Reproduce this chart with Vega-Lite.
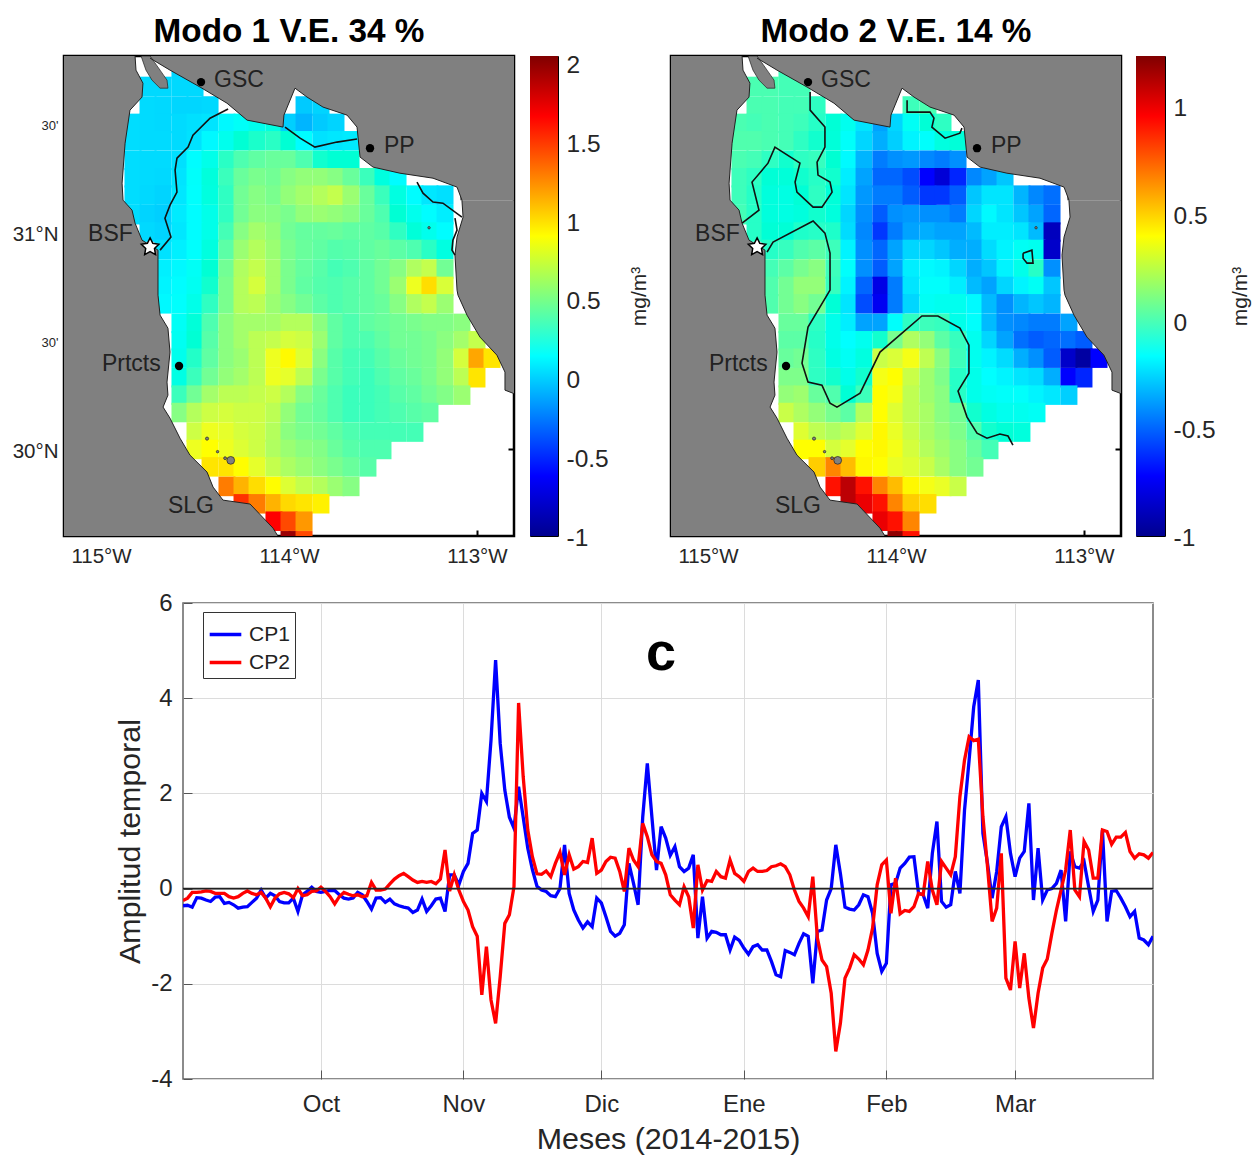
{"$schema":"https://vega.github.io/schema/vega-lite/v6.json","background":"white","padding":{"left":10,"top":13,"right":18,"bottom":10},"config":{"font":"Liberation Sans","axis":{"labelColor":"#262626","titleColor":"#262626","titleFontWeight":"normal"},"title":{"font":"Liberation Sans"}},
"datasets":{
"celdas":[
{"lon":-114.58,"lat":31.75,"a":-0.07,"b":0.05},
{"lon":-114.75,"lat":31.67,"a":-0.06,"b":0.07},{"lon":-114.67,"lat":31.67,"a":-0.06,"b":0.07},{"lon":-114.58,"lat":31.67,"a":-0.06,"b":0.06},{"lon":-114.5,"lat":31.67,"a":-0.06,"b":0.06},
{"lon":-114.75,"lat":31.58,"a":-0.05,"b":0.07},{"lon":-114.67,"lat":31.58,"a":-0.06,"b":0.07},{"lon":-114.58,"lat":31.58,"a":-0.07,"b":0.06},{"lon":-114.5,"lat":31.58,"a":-0.07,"b":0.06},{"lon":-114.42,"lat":31.58,"a":-0.06,"b":0.03},{"lon":-113.92,"lat":31.58,"a":-0.12,"b":0.05},{"lon":-113.83,"lat":31.58,"a":-0.08,"b":0.07},
{"lon":-114.83,"lat":31.5,"a":-0.04,"b":0.07},{"lon":-114.75,"lat":31.5,"a":-0.05,"b":0.06},{"lon":-114.67,"lat":31.5,"a":-0.06,"b":0.07},{"lon":-114.58,"lat":31.5,"a":-0.05,"b":0.06},{"lon":-114.5,"lat":31.5,"a":-0.03,"b":0.05},{"lon":-114.42,"lat":31.5,"a":-0.01,"b":0.02},{"lon":-114.33,"lat":31.5,"a":0.08,"b":-0.02},{"lon":-114.25,"lat":31.5,"a":0.15,"b":-0.1},{"lon":-114.17,"lat":31.5,"a":0.2,"b":-0.25},{"lon":-114.08,"lat":31.5,"a":0.25,"b":-0.45},{"lon":-114,"lat":31.5,"a":-0.1,"b":-0.3},{"lon":-113.92,"lat":31.5,"a":-0.2,"b":-0.12},{"lon":-113.83,"lat":31.5,"a":-0.12,"b":-0.02},{"lon":-113.75,"lat":31.5,"a":-0.08,"b":0.03},
{"lon":-114.83,"lat":31.42,"a":-0.04,"b":0.08},{"lon":-114.75,"lat":31.42,"a":-0.05,"b":0.08},{"lon":-114.67,"lat":31.42,"a":-0.05,"b":0.07},{"lon":-114.58,"lat":31.42,"a":-0.05,"b":0.06},{"lon":-114.5,"lat":31.42,"a":-0.02,"b":0.03},{"lon":-114.42,"lat":31.42,"a":0.08,"b":0},{"lon":-114.33,"lat":31.42,"a":0.2,"b":-0.03},{"lon":-114.25,"lat":31.42,"a":0.3,"b":-0.14},{"lon":-114.17,"lat":31.42,"a":0.33,"b":-0.3},{"lon":-114.08,"lat":31.42,"a":0.35,"b":-0.42},{"lon":-114,"lat":31.42,"a":0.3,"b":-0.32},{"lon":-113.92,"lat":31.42,"a":0.1,"b":-0.2},{"lon":-113.83,"lat":31.42,"a":-0.02,"b":-0.15},{"lon":-113.75,"lat":31.42,"a":0,"b":-0.05},{"lon":-113.67,"lat":31.42,"a":0.02,"b":-0.03},
{"lon":-114.83,"lat":31.33,"a":-0.04,"b":0.07},{"lon":-114.75,"lat":31.33,"a":-0.05,"b":0.06},{"lon":-114.67,"lat":31.33,"a":-0.05,"b":0.03},{"lon":-114.58,"lat":31.33,"a":-0.03,"b":0},{"lon":-114.5,"lat":31.33,"a":0.1,"b":0.03},{"lon":-114.42,"lat":31.33,"a":0.22,"b":0.04},{"lon":-114.33,"lat":31.33,"a":0.35,"b":-0.01},{"lon":-114.25,"lat":31.33,"a":0.42,"b":-0.18},{"lon":-114.17,"lat":31.33,"a":0.46,"b":-0.4},{"lon":-114.08,"lat":31.33,"a":0.48,"b":-0.55},{"lon":-114,"lat":31.33,"a":0.48,"b":-0.5},{"lon":-113.92,"lat":31.33,"a":0.42,"b":-0.48},{"lon":-113.83,"lat":31.33,"a":0.32,"b":-0.52},{"lon":-113.75,"lat":31.33,"a":0.3,"b":-0.55},{"lon":-113.67,"lat":31.33,"a":0.3,"b":-0.5},
{"lon":-114.83,"lat":31.25,"a":-0.04,"b":0.05},{"lon":-114.75,"lat":31.25,"a":-0.05,"b":0.03},{"lon":-114.67,"lat":31.25,"a":-0.06,"b":-0.02},{"lon":-114.58,"lat":31.25,"a":-0.01,"b":-0.03},{"lon":-114.5,"lat":31.25,"a":0.13,"b":0},{"lon":-114.42,"lat":31.25,"a":0.27,"b":0.02},{"lon":-114.33,"lat":31.25,"a":0.38,"b":0},{"lon":-114.25,"lat":31.25,"a":0.48,"b":-0.22},{"lon":-114.17,"lat":31.25,"a":0.52,"b":-0.45},{"lon":-114.08,"lat":31.25,"a":0.5,"b":-0.6},{"lon":-114,"lat":31.25,"a":0.55,"b":-0.6},{"lon":-113.92,"lat":31.25,"a":0.58,"b":-0.65},{"lon":-113.83,"lat":31.25,"a":0.58,"b":-0.72},{"lon":-113.75,"lat":31.25,"a":0.55,"b":-0.82},{"lon":-113.67,"lat":31.25,"a":0.48,"b":-0.7},{"lon":-113.58,"lat":31.25,"a":0.38,"b":-0.52},{"lon":-113.5,"lat":31.25,"a":0.26,"b":-0.45},{"lon":-113.42,"lat":31.25,"a":0.1,"b":-0.35},
{"lon":-114.83,"lat":31.17,"a":-0.04,"b":0.05},{"lon":-114.75,"lat":31.17,"a":-0.06,"b":0.02},{"lon":-114.67,"lat":31.17,"a":-0.08,"b":-0.04},{"lon":-114.58,"lat":31.17,"a":0,"b":-0.06},{"lon":-114.5,"lat":31.17,"a":0.12,"b":-0.02},{"lon":-114.42,"lat":31.17,"a":0.26,"b":0.03},{"lon":-114.33,"lat":31.17,"a":0.36,"b":-0.03},{"lon":-114.25,"lat":31.17,"a":0.5,"b":-0.25},{"lon":-114.17,"lat":31.17,"a":0.55,"b":-0.48},{"lon":-114.08,"lat":31.17,"a":0.52,"b":-0.55},{"lon":-114,"lat":31.17,"a":0.58,"b":-0.55},{"lon":-113.92,"lat":31.17,"a":0.62,"b":-0.62},{"lon":-113.83,"lat":31.17,"a":0.66,"b":-0.68},{"lon":-113.75,"lat":31.17,"a":0.7,"b":-0.68},{"lon":-113.67,"lat":31.17,"a":0.6,"b":-0.62},{"lon":-113.58,"lat":31.17,"a":0.48,"b":-0.35},{"lon":-113.5,"lat":31.17,"a":0.38,"b":-0.25},{"lon":-113.42,"lat":31.17,"a":0.25,"b":-0.25},{"lon":-113.33,"lat":31.17,"a":0.1,"b":-0.4},{"lon":-113.25,"lat":31.17,"a":0,"b":-0.52},{"lon":-113.17,"lat":31.17,"a":-0.03,"b":-0.58},
{"lon":-114.83,"lat":31.08,"a":-0.04,"b":0.06},{"lon":-114.75,"lat":31.08,"a":-0.08,"b":0.02},{"lon":-114.67,"lat":31.08,"a":-0.1,"b":-0.04},{"lon":-114.58,"lat":31.08,"a":0.02,"b":-0.06},{"lon":-114.5,"lat":31.08,"a":0.1,"b":-0.04},{"lon":-114.42,"lat":31.08,"a":0.22,"b":0},{"lon":-114.33,"lat":31.08,"a":0.36,"b":-0.04},{"lon":-114.25,"lat":31.08,"a":0.5,"b":-0.3},{"lon":-114.17,"lat":31.08,"a":0.56,"b":-0.5},{"lon":-114.08,"lat":31.08,"a":0.55,"b":-0.62},{"lon":-114,"lat":31.08,"a":0.52,"b":-0.5},{"lon":-113.92,"lat":31.08,"a":0.58,"b":-0.48},{"lon":-113.83,"lat":31.08,"a":0.6,"b":-0.5},{"lon":-113.75,"lat":31.08,"a":0.58,"b":-0.5},{"lon":-113.67,"lat":31.08,"a":0.55,"b":-0.55},{"lon":-113.58,"lat":31.08,"a":0.48,"b":-0.3},{"lon":-113.5,"lat":31.08,"a":0.42,"b":-0.18},{"lon":-113.42,"lat":31.08,"a":0.3,"b":-0.25},{"lon":-113.33,"lat":31.08,"a":0.2,"b":-0.35},{"lon":-113.25,"lat":31.08,"a":0.1,"b":-0.45},{"lon":-113.17,"lat":31.08,"a":0.03,"b":-0.6},
{"lon":-114.75,"lat":31,"a":-0.06,"b":0.02},{"lon":-114.67,"lat":31,"a":-0.08,"b":-0.02},{"lon":-114.58,"lat":31,"a":0,"b":-0.02},{"lon":-114.5,"lat":31,"a":0.1,"b":0.01},{"lon":-114.42,"lat":31,"a":0.22,"b":0.02},{"lon":-114.33,"lat":31,"a":0.4,"b":0.01},{"lon":-114.25,"lat":31,"a":0.55,"b":-0.28},{"lon":-114.17,"lat":31,"a":0.62,"b":-0.52},{"lon":-114.08,"lat":31,"a":0.58,"b":-0.68},{"lon":-114,"lat":31,"a":0.5,"b":-0.55},{"lon":-113.92,"lat":31,"a":0.47,"b":-0.45},{"lon":-113.83,"lat":31,"a":0.47,"b":-0.42},{"lon":-113.75,"lat":31,"a":0.48,"b":-0.45},{"lon":-113.67,"lat":31,"a":0.46,"b":-0.45},{"lon":-113.58,"lat":31,"a":0.46,"b":-0.38},{"lon":-113.5,"lat":31,"a":0.44,"b":-0.22},{"lon":-113.42,"lat":31,"a":0.36,"b":-0.22},{"lon":-113.33,"lat":31,"a":0.28,"b":-0.25},{"lon":-113.25,"lat":31,"a":0.2,"b":-0.38},{"lon":-113.17,"lat":31,"a":0.1,"b":-0.88},
{"lon":-114.67,"lat":30.92,"a":-0.02,"b":0.02},{"lon":-114.58,"lat":30.92,"a":0.04,"b":0.04},{"lon":-114.5,"lat":30.92,"a":0.12,"b":0.08},{"lon":-114.42,"lat":30.92,"a":0.26,"b":0.1},{"lon":-114.33,"lat":30.92,"a":0.45,"b":0.05},{"lon":-114.25,"lat":30.92,"a":0.6,"b":-0.2},{"lon":-114.17,"lat":30.92,"a":0.66,"b":-0.5},{"lon":-114.08,"lat":30.92,"a":0.6,"b":-0.6},{"lon":-114,"lat":30.92,"a":0.52,"b":-0.45},{"lon":-113.92,"lat":30.92,"a":0.48,"b":-0.3},{"lon":-113.83,"lat":30.92,"a":0.46,"b":-0.3},{"lon":-113.75,"lat":30.92,"a":0.43,"b":-0.35},{"lon":-113.67,"lat":30.92,"a":0.44,"b":-0.42},{"lon":-113.58,"lat":30.92,"a":0.46,"b":-0.42},{"lon":-113.5,"lat":30.92,"a":0.48,"b":-0.28},{"lon":-113.42,"lat":30.92,"a":0.45,"b":-0.2},{"lon":-113.33,"lat":30.92,"a":0.42,"b":-0.12},{"lon":-113.25,"lat":30.92,"a":0.35,"b":-0.1},{"lon":-113.17,"lat":30.92,"a":0.25,"b":-0.85},
{"lon":-114.67,"lat":30.83,"a":0.04,"b":0.06},{"lon":-114.58,"lat":30.83,"a":0.08,"b":0.1},{"lon":-114.5,"lat":30.83,"a":0.16,"b":0.15},{"lon":-114.42,"lat":30.83,"a":0.3,"b":0.18},{"lon":-114.33,"lat":30.83,"a":0.5,"b":0.05},{"lon":-114.25,"lat":30.83,"a":0.65,"b":-0.15},{"lon":-114.17,"lat":30.83,"a":0.7,"b":-0.5},{"lon":-114.08,"lat":30.83,"a":0.62,"b":-0.62},{"lon":-114,"lat":30.83,"a":0.52,"b":-0.45},{"lon":-113.92,"lat":30.83,"a":0.47,"b":-0.22},{"lon":-113.83,"lat":30.83,"a":0.44,"b":-0.18},{"lon":-113.75,"lat":30.83,"a":0.4,"b":-0.2},{"lon":-113.67,"lat":30.83,"a":0.42,"b":-0.3},{"lon":-113.58,"lat":30.83,"a":0.46,"b":-0.42},{"lon":-113.5,"lat":30.83,"a":0.5,"b":-0.35},{"lon":-113.42,"lat":30.83,"a":0.55,"b":-0.2},{"lon":-113.33,"lat":30.83,"a":0.65,"b":-0.08},{"lon":-113.25,"lat":30.83,"a":0.7,"b":0.02},{"lon":-113.17,"lat":30.83,"a":0.5,"b":-0.5},
{"lon":-114.67,"lat":30.75,"a":0.06,"b":0.08},{"lon":-114.58,"lat":30.75,"a":0.1,"b":0.14},{"lon":-114.5,"lat":30.75,"a":0.18,"b":0.2},{"lon":-114.42,"lat":30.75,"a":0.32,"b":0.2},{"lon":-114.33,"lat":30.75,"a":0.52,"b":0.04},{"lon":-114.25,"lat":30.75,"a":0.66,"b":-0.2},{"lon":-114.17,"lat":30.75,"a":0.74,"b":-0.6},{"lon":-114.08,"lat":30.75,"a":0.62,"b":-0.78},{"lon":-114,"lat":30.75,"a":0.52,"b":-0.55},{"lon":-113.92,"lat":30.75,"a":0.46,"b":-0.25},{"lon":-113.83,"lat":30.75,"a":0.43,"b":-0.15},{"lon":-113.75,"lat":30.75,"a":0.42,"b":-0.15},{"lon":-113.67,"lat":30.75,"a":0.44,"b":-0.22},{"lon":-113.58,"lat":30.75,"a":0.46,"b":-0.38},{"lon":-113.5,"lat":30.75,"a":0.5,"b":-0.45},{"lon":-113.42,"lat":30.75,"a":0.6,"b":-0.3},{"lon":-113.33,"lat":30.75,"a":0.8,"b":-0.2},{"lon":-113.25,"lat":30.75,"a":0.98,"b":-0.12},{"lon":-113.17,"lat":30.75,"a":0.75,"b":-0.35},
{"lon":-114.67,"lat":30.67,"a":0.08,"b":0.08},{"lon":-114.58,"lat":30.67,"a":0.12,"b":0.14},{"lon":-114.5,"lat":30.67,"a":0.22,"b":0.18},{"lon":-114.42,"lat":30.67,"a":0.36,"b":0.14},{"lon":-114.33,"lat":30.67,"a":0.52,"b":-0.02},{"lon":-114.25,"lat":30.67,"a":0.66,"b":-0.25},{"lon":-114.17,"lat":30.67,"a":0.68,"b":-0.65},{"lon":-114.08,"lat":30.67,"a":0.6,"b":-0.75},{"lon":-114,"lat":30.67,"a":0.55,"b":-0.55},{"lon":-113.92,"lat":30.67,"a":0.5,"b":-0.3},{"lon":-113.83,"lat":30.67,"a":0.45,"b":-0.12},{"lon":-113.75,"lat":30.67,"a":0.42,"b":-0.1},{"lon":-113.67,"lat":30.67,"a":0.44,"b":-0.1},{"lon":-113.58,"lat":30.67,"a":0.46,"b":-0.18},{"lon":-113.5,"lat":30.67,"a":0.48,"b":-0.38},{"lon":-113.42,"lat":30.67,"a":0.55,"b":-0.5},{"lon":-113.33,"lat":30.67,"a":0.65,"b":-0.4},{"lon":-113.25,"lat":30.67,"a":0.7,"b":-0.35},{"lon":-113.17,"lat":30.67,"a":0.6,"b":-0.4},
{"lon":-114.58,"lat":30.58,"a":0.16,"b":0.12},{"lon":-114.5,"lat":30.58,"a":0.28,"b":0.12},{"lon":-114.42,"lat":30.58,"a":0.42,"b":0.03},{"lon":-114.33,"lat":30.58,"a":0.56,"b":-0.08},{"lon":-114.25,"lat":30.58,"a":0.62,"b":-0.22},{"lon":-114.17,"lat":30.58,"a":0.62,"b":-0.45},{"lon":-114.08,"lat":30.58,"a":0.62,"b":-0.45},{"lon":-114,"lat":30.58,"a":0.66,"b":-0.15},{"lon":-113.92,"lat":30.58,"a":0.66,"b":0.03},{"lon":-113.83,"lat":30.58,"a":0.56,"b":0.05},{"lon":-113.75,"lat":30.58,"a":0.46,"b":0.04},{"lon":-113.67,"lat":30.58,"a":0.42,"b":-0.08},{"lon":-113.58,"lat":30.58,"a":0.46,"b":-0.15},{"lon":-113.5,"lat":30.58,"a":0.48,"b":-0.38},{"lon":-113.42,"lat":30.58,"a":0.5,"b":-0.5},{"lon":-113.33,"lat":30.58,"a":0.52,"b":-0.52},{"lon":-113.25,"lat":30.58,"a":0.54,"b":-0.55},{"lon":-113.17,"lat":30.58,"a":0.54,"b":-0.55},{"lon":-113.08,"lat":30.58,"a":0.56,"b":-0.45},
{"lon":-114.58,"lat":30.5,"a":0.18,"b":0.1},{"lon":-114.5,"lat":30.5,"a":0.3,"b":0.1},{"lon":-114.42,"lat":30.5,"a":0.44,"b":0.02},{"lon":-114.33,"lat":30.5,"a":0.56,"b":-0.08},{"lon":-114.25,"lat":30.5,"a":0.62,"b":-0.16},{"lon":-114.17,"lat":30.5,"a":0.68,"b":-0.1},{"lon":-114.08,"lat":30.5,"a":0.7,"b":0},{"lon":-114,"lat":30.5,"a":0.74,"b":0.15},{"lon":-113.92,"lat":30.5,"a":0.72,"b":0.25},{"lon":-113.83,"lat":30.5,"a":0.6,"b":0.2},{"lon":-113.75,"lat":30.5,"a":0.46,"b":0.1},{"lon":-113.67,"lat":30.5,"a":0.42,"b":0.04},{"lon":-113.58,"lat":30.5,"a":0.42,"b":-0.1},{"lon":-113.5,"lat":30.5,"a":0.46,"b":-0.3},{"lon":-113.42,"lat":30.5,"a":0.5,"b":-0.45},{"lon":-113.33,"lat":30.5,"a":0.5,"b":-0.58},{"lon":-113.25,"lat":30.5,"a":0.52,"b":-0.62},{"lon":-113.17,"lat":30.5,"a":0.56,"b":-0.6},{"lon":-113.08,"lat":30.5,"a":0.62,"b":-0.58},{"lon":-113,"lat":30.5,"a":0.7,"b":-0.62},
{"lon":-114.58,"lat":30.42,"a":0.2,"b":0.12},{"lon":-114.5,"lat":30.42,"a":0.34,"b":0.14},{"lon":-114.42,"lat":30.42,"a":0.46,"b":0.03},{"lon":-114.33,"lat":30.42,"a":0.56,"b":-0.06},{"lon":-114.25,"lat":30.42,"a":0.6,"b":-0.12},{"lon":-114.17,"lat":30.42,"a":0.68,"b":-0.05},{"lon":-114.08,"lat":30.42,"a":0.8,"b":0.3},{"lon":-114,"lat":30.42,"a":0.86,"b":0.33},{"lon":-113.92,"lat":30.42,"a":0.76,"b":0.38},{"lon":-113.83,"lat":30.42,"a":0.56,"b":0.28},{"lon":-113.75,"lat":30.42,"a":0.44,"b":0.18},{"lon":-113.67,"lat":30.42,"a":0.4,"b":0.05},{"lon":-113.58,"lat":30.42,"a":0.4,"b":-0.1},{"lon":-113.5,"lat":30.42,"a":0.44,"b":-0.2},{"lon":-113.42,"lat":30.42,"a":0.48,"b":-0.28},{"lon":-113.33,"lat":30.42,"a":0.5,"b":-0.42},{"lon":-113.25,"lat":30.42,"a":0.52,"b":-0.5},{"lon":-113.17,"lat":30.42,"a":0.58,"b":-0.62},{"lon":-113.08,"lat":30.42,"a":0.74,"b":-0.85},{"lon":-113,"lat":30.42,"a":1.2,"b":-0.95},{"lon":-112.92,"lat":30.42,"a":0.95,"b":-0.72},
{"lon":-114.58,"lat":30.33,"a":0.24,"b":0.16},{"lon":-114.5,"lat":30.33,"a":0.38,"b":0.16},{"lon":-114.42,"lat":30.33,"a":0.5,"b":0.03},{"lon":-114.33,"lat":30.33,"a":0.58,"b":0},{"lon":-114.25,"lat":30.33,"a":0.62,"b":-0.08},{"lon":-114.17,"lat":30.33,"a":0.68,"b":0},{"lon":-114.08,"lat":30.33,"a":0.8,"b":0.38},{"lon":-114,"lat":30.33,"a":0.78,"b":0.4},{"lon":-113.92,"lat":30.33,"a":0.68,"b":0.3},{"lon":-113.83,"lat":30.33,"a":0.52,"b":0.22},{"lon":-113.75,"lat":30.33,"a":0.44,"b":0.16},{"lon":-113.67,"lat":30.33,"a":0.4,"b":0.02},{"lon":-113.58,"lat":30.33,"a":0.38,"b":-0.08},{"lon":-113.5,"lat":30.33,"a":0.42,"b":-0.16},{"lon":-113.42,"lat":30.33,"a":0.46,"b":-0.2},{"lon":-113.33,"lat":30.33,"a":0.48,"b":-0.25},{"lon":-113.25,"lat":30.33,"a":0.52,"b":-0.28},{"lon":-113.17,"lat":30.33,"a":0.58,"b":-0.42},{"lon":-113.08,"lat":30.33,"a":0.68,"b":-0.72},{"lon":-113,"lat":30.33,"a":0.95,"b":-0.7},
{"lon":-114.58,"lat":30.25,"a":0.38,"b":0.2},{"lon":-114.5,"lat":30.25,"a":0.5,"b":0.22},{"lon":-114.42,"lat":30.25,"a":0.62,"b":0.12},{"lon":-114.33,"lat":30.25,"a":0.68,"b":0.08},{"lon":-114.25,"lat":30.25,"a":0.68,"b":-0.02},{"lon":-114.17,"lat":30.25,"a":0.7,"b":0.05},{"lon":-114.08,"lat":30.25,"a":0.72,"b":0.4},{"lon":-114,"lat":30.25,"a":0.66,"b":0.38},{"lon":-113.92,"lat":30.25,"a":0.55,"b":0.28},{"lon":-113.83,"lat":30.25,"a":0.48,"b":0.22},{"lon":-113.75,"lat":30.25,"a":0.42,"b":0.18},{"lon":-113.67,"lat":30.25,"a":0.38,"b":0.02},{"lon":-113.58,"lat":30.25,"a":0.38,"b":-0.08},{"lon":-113.5,"lat":30.25,"a":0.4,"b":-0.12},{"lon":-113.42,"lat":30.25,"a":0.44,"b":-0.14},{"lon":-113.33,"lat":30.25,"a":0.46,"b":-0.15},{"lon":-113.25,"lat":30.25,"a":0.5,"b":-0.2},{"lon":-113.17,"lat":30.25,"a":0.54,"b":-0.24},{"lon":-113.08,"lat":30.25,"a":0.6,"b":-0.32},
{"lon":-114.58,"lat":30.17,"a":0.55,"b":0.3},{"lon":-114.5,"lat":30.17,"a":0.66,"b":0.25},{"lon":-114.42,"lat":30.17,"a":0.72,"b":0.2},{"lon":-114.33,"lat":30.17,"a":0.74,"b":0.15},{"lon":-114.25,"lat":30.17,"a":0.72,"b":0.1},{"lon":-114.17,"lat":30.17,"a":0.72,"b":0.26},{"lon":-114.08,"lat":30.17,"a":0.68,"b":0.4},{"lon":-114,"lat":30.17,"a":0.58,"b":0.34},{"lon":-113.92,"lat":30.17,"a":0.5,"b":0.28},{"lon":-113.83,"lat":30.17,"a":0.47,"b":0.24},{"lon":-113.75,"lat":30.17,"a":0.42,"b":0.18},{"lon":-113.67,"lat":30.17,"a":0.38,"b":0.14},{"lon":-113.58,"lat":30.17,"a":0.38,"b":0},{"lon":-113.5,"lat":30.17,"a":0.4,"b":-0.06},{"lon":-113.42,"lat":30.17,"a":0.42,"b":-0.1},{"lon":-113.33,"lat":30.17,"a":0.44,"b":-0.1},{"lon":-113.25,"lat":30.17,"a":0.46,"b":-0.12},
{"lon":-114.5,"lat":30.08,"a":0.72,"b":0.34},{"lon":-114.42,"lat":30.08,"a":0.8,"b":0.28},{"lon":-114.33,"lat":30.08,"a":0.78,"b":0.25},{"lon":-114.25,"lat":30.08,"a":0.74,"b":0.28},{"lon":-114.17,"lat":30.08,"a":0.72,"b":0.34},{"lon":-114.08,"lat":30.08,"a":0.66,"b":0.42},{"lon":-114,"lat":30.08,"a":0.56,"b":0.36},{"lon":-113.92,"lat":30.08,"a":0.52,"b":0.3},{"lon":-113.83,"lat":30.08,"a":0.5,"b":0.24},{"lon":-113.75,"lat":30.08,"a":0.46,"b":0.2},{"lon":-113.67,"lat":30.08,"a":0.42,"b":0.16},{"lon":-113.58,"lat":30.08,"a":0.4,"b":0.08},{"lon":-113.5,"lat":30.08,"a":0.4,"b":0},{"lon":-113.42,"lat":30.08,"a":0.4,"b":-0.02},{"lon":-113.33,"lat":30.08,"a":0.4,"b":-0.04},
{"lon":-114.5,"lat":30,"a":0.8,"b":0.4},{"lon":-114.42,"lat":30,"a":0.84,"b":0.4},{"lon":-114.33,"lat":30,"a":0.8,"b":0.32},{"lon":-114.25,"lat":30,"a":0.76,"b":0.35},{"lon":-114.17,"lat":30,"a":0.72,"b":0.4},{"lon":-114.08,"lat":30,"a":0.65,"b":0.42},{"lon":-114,"lat":30,"a":0.6,"b":0.38},{"lon":-113.92,"lat":30,"a":0.56,"b":0.32},{"lon":-113.83,"lat":30,"a":0.54,"b":0.26},{"lon":-113.75,"lat":30,"a":0.48,"b":0.22},{"lon":-113.67,"lat":30,"a":0.44,"b":0.18},{"lon":-113.58,"lat":30,"a":0.42,"b":0.12},{"lon":-113.5,"lat":30,"a":0.42,"b":0.06},
{"lon":-114.42,"lat":29.92,"a":0.95,"b":0.55},{"lon":-114.33,"lat":29.92,"a":0.95,"b":0.75},{"lon":-114.25,"lat":29.92,"a":0.85,"b":0.6},{"lon":-114.17,"lat":29.92,"a":0.78,"b":0.42},{"lon":-114.08,"lat":29.92,"a":0.7,"b":0.4},{"lon":-114,"lat":29.92,"a":0.64,"b":0.36},{"lon":-113.92,"lat":29.92,"a":0.6,"b":0.34},{"lon":-113.83,"lat":29.92,"a":0.56,"b":0.3},{"lon":-113.75,"lat":29.92,"a":0.52,"b":0.24},{"lon":-113.67,"lat":29.92,"a":0.48,"b":0.18},{"lon":-113.58,"lat":29.92,"a":0.44,"b":0.14},
{"lon":-114.33,"lat":29.83,"a":1.35,"b":0.95},{"lon":-114.25,"lat":29.83,"a":1.15,"b":1.1},{"lon":-114.17,"lat":29.83,"a":0.98,"b":0.95},{"lon":-114.08,"lat":29.83,"a":0.85,"b":0.75},{"lon":-114,"lat":29.83,"a":0.76,"b":0.6},{"lon":-113.92,"lat":29.83,"a":0.7,"b":0.42},{"lon":-113.83,"lat":29.83,"a":0.66,"b":0.38},{"lon":-113.75,"lat":29.83,"a":0.6,"b":0.36},{"lon":-113.67,"lat":29.83,"a":0.55,"b":0.3},
{"lon":-114.25,"lat":29.75,"a":1.55,"b":1.1},{"lon":-114.17,"lat":29.75,"a":1.35,"b":1},{"lon":-114.08,"lat":29.75,"a":1.15,"b":0.95},{"lon":-114,"lat":29.75,"a":1,"b":0.75},{"lon":-113.92,"lat":29.75,"a":0.95,"b":0.55},{"lon":-113.83,"lat":29.75,"a":0.9,"b":0.5},
{"lon":-114.08,"lat":29.67,"a":1.6,"b":1},{"lon":-114,"lat":29.67,"a":1.5,"b":0.95},{"lon":-113.92,"lat":29.67,"a":1.25,"b":0.75},
{"lon":-114,"lat":29.58,"a":1.95,"b":1.2},{"lon":-113.92,"lat":29.58,"a":1.5,"b":0.95}
],
"oeste":[{"lon":-114.819,"lat":31.81},{"lon":-114.814,"lat":31.745},{"lon":-114.777,"lat":31.685},{"lon":-114.782,"lat":31.621},{"lon":-114.846,"lat":31.561},{"lon":-114.872,"lat":31.409},{"lon":-114.888,"lat":31.225},{"lon":-114.883,"lat":31.147},{"lon":-114.835,"lat":31.101},{"lon":-114.819,"lat":31.041},{"lon":-114.782,"lat":30.963},{"lon":-114.697,"lat":30.917},{"lon":-114.697,"lat":30.71},{"lon":-114.686,"lat":30.618},{"lon":-114.644,"lat":30.558},{"lon":-114.633,"lat":30.448},{"lon":-114.649,"lat":30.31},{"lon":-114.644,"lat":30.25},{"lon":-114.67,"lat":30.195},{"lon":-114.633,"lat":30.144},{"lon":-114.58,"lat":30.052},{"lon":-114.527,"lat":29.974},{"lon":-114.436,"lat":29.896},{"lon":-114.404,"lat":29.827},{"lon":-114.351,"lat":29.767},{"lon":-114.207,"lat":29.749},{"lon":-114.085,"lat":29.638},{"lon":-114.059,"lat":29.602}],
"norte":[{"lon":-114.739,"lat":31.8},{"lon":-114.633,"lat":31.745},{"lon":-114.473,"lat":31.667},{"lon":-114.33,"lat":31.593},{"lon":-114.223,"lat":31.515},{"lon":-114.032,"lat":31.483},{"lon":-114.027,"lat":31.538},{"lon":-113.968,"lat":31.662},{"lon":-113.904,"lat":31.621},{"lon":-113.819,"lat":31.575},{"lon":-113.691,"lat":31.538},{"lon":-113.638,"lat":31.483},{"lon":-113.622,"lat":31.345},{"lon":-113.553,"lat":31.299},{"lon":-113.41,"lat":31.271},{"lon":-113.234,"lat":31.248},{"lon":-113.106,"lat":31.207},{"lon":-113.08,"lat":31.147}],
"tope":[{"lon":-113.09,"lat":31.147},{"lon":-112.8,"lat":31.147}],
"este":[{"lon":-113.08,"lat":31.147},{"lon":-113.074,"lat":31.069},{"lon":-113.106,"lat":30.977},{"lon":-113.117,"lat":30.894},{"lon":-113.106,"lat":30.733},{"lon":-113.101,"lat":30.71},{"lon":-113.053,"lat":30.618},{"lon":-112.984,"lat":30.517},{"lon":-112.894,"lat":30.434},{"lon":-112.851,"lat":30.356},{"lon":-112.851,"lat":30.273},{"lon":-112.809,"lat":30.259}],
"isla":[{"lat":31.81,"lon":-114.787,"lon2":-114.739},{"lat":31.745,"lon":-114.761,"lon2":-114.686},{"lat":31.699,"lon":-114.729,"lon2":-114.649},{"lat":31.662,"lon":-114.686,"lon2":-114.644}],
"sitios":[{"lon":-114.399,"lat":31.699,"t":"GSC"},{"lon":-113.495,"lat":31.396,"t":"PP"},{"lon":-115.069,"lat":30.991,"t":"BSF"},{"lon":-114.995,"lat":30.393,"t":"Prtcts"},{"lon":-114.644,"lat":29.74,"t":"SLG"}],
"puntos":[{"lon":-114.468,"lat":31.69},{"lon":-113.569,"lat":31.386},{"lon":-114.585,"lat":30.384}],
"islotes":[{"lon":-114.436,"lat":30.05,"s":10},{"lon":-114.38,"lat":29.99,"s":6},{"lon":-114.34,"lat":29.96,"s":8},{"lon":-114.31,"lat":29.95,"s":60},{"lon":-113.255,"lat":31.02,"s":6}],
"estrella":[{"lon":-114.739,"lat":30.931}],
"c1":[{"c":"a","n":1,"lon":-114.324,"lat":31.566},{"c":"a","n":2,"lon":-114.42,"lat":31.524},{"c":"a","n":3,"lon":-114.511,"lat":31.446},{"c":"a","n":4,"lon":-114.537,"lat":31.391},{"c":"a","n":5,"lon":-114.596,"lat":31.34},{"c":"a","n":6,"lon":-114.606,"lat":31.285},{"c":"a","n":7,"lon":-114.596,"lat":31.184},{"c":"a","n":8,"lon":-114.633,"lat":31.124},{"c":"a","n":9,"lon":-114.66,"lat":31.064},{"c":"a","n":10,"lon":-114.628,"lat":30.977},{"c":"a","n":11,"lon":-114.686,"lat":30.917},
{"c":"b","n":1,"lon":-114.021,"lat":31.483},{"c":"b","n":2,"lon":-113.941,"lat":31.432},{"c":"b","n":3,"lon":-113.862,"lat":31.391},{"c":"b","n":4,"lon":-113.745,"lat":31.414},{"c":"b","n":5,"lon":-113.638,"lat":31.428},
{"c":"d","n":1,"lon":-113.319,"lat":31.23},{"c":"d","n":2,"lon":-113.287,"lat":31.179},{"c":"d","n":3,"lon":-113.234,"lat":31.138},{"c":"d","n":4,"lon":-113.181,"lat":31.133},{"c":"d","n":5,"lon":-113.08,"lat":31.069},
{"c":"e","n":1,"lon":-113.117,"lat":31.064},{"c":"e","n":2,"lon":-113.106,"lat":31.009},{"c":"e","n":3,"lon":-113.128,"lat":30.963},{"c":"e","n":4,"lon":-113.133,"lat":30.917},{"c":"e","n":5,"lon":-113.117,"lat":30.894}],
"c2":[{"c":"a","n":1,"lon":-114.457,"lat":31.644},{"c":"a","n":2,"lon":-114.457,"lat":31.561},{"c":"a","n":3,"lon":-114.378,"lat":31.483},{"c":"a","n":4,"lon":-114.378,"lat":31.391},{"c":"a","n":5,"lon":-114.42,"lat":31.322},{"c":"a","n":6,"lon":-114.415,"lat":31.262},{"c":"a","n":7,"lon":-114.351,"lat":31.23},{"c":"a","n":8,"lon":-114.34,"lat":31.184},{"c":"a","n":9,"lon":-114.394,"lat":31.115},{"c":"a","n":10,"lon":-114.441,"lat":31.115},{"c":"a","n":11,"lon":-114.527,"lat":31.184},{"c":"a","n":12,"lon":-114.537,"lat":31.23},{"c":"a","n":13,"lon":-114.511,"lat":31.317},{"c":"a","n":14,"lon":-114.644,"lat":31.391},{"c":"a","n":15,"lon":-114.681,"lat":31.317},{"c":"a","n":16,"lon":-114.766,"lat":31.23},{"c":"a","n":17,"lon":-114.729,"lat":31.101},{"c":"a","n":18,"lon":-114.819,"lat":31.041},
{"c":"b","n":1,"lon":-114.686,"lat":30.908},{"c":"b","n":2,"lon":-114.654,"lat":30.954},{"c":"b","n":3,"lon":-114.441,"lat":31.051},{"c":"b","n":4,"lon":-114.378,"lat":30.995},{"c":"b","n":5,"lon":-114.351,"lat":30.903},{"c":"b","n":6,"lon":-114.351,"lat":30.733},{"c":"b","n":7,"lon":-114.468,"lat":30.563},{"c":"b","n":8,"lon":-114.5,"lat":30.397},{"c":"b","n":9,"lon":-114.468,"lat":30.31},{"c":"b","n":10,"lon":-114.394,"lat":30.296},{"c":"b","n":11,"lon":-114.351,"lat":30.213},{"c":"b","n":12,"lon":-114.314,"lat":30.195},{"c":"b","n":13,"lon":-114.191,"lat":30.259},{"c":"b","n":14,"lon":-114.085,"lat":30.448},{"c":"b","n":15,"lon":-113.862,"lat":30.614},{"c":"b","n":16,"lon":-113.777,"lat":30.614},{"c":"b","n":17,"lon":-113.66,"lat":30.558},{"c":"b","n":18,"lon":-113.612,"lat":30.48},{"c":"b","n":19,"lon":-113.612,"lat":30.351},{"c":"b","n":20,"lon":-113.67,"lat":30.269},{"c":"b","n":21,"lon":-113.622,"lat":30.149},{"c":"b","n":22,"lon":-113.569,"lat":30.075},{"c":"b","n":23,"lon":-113.516,"lat":30.052},{"c":"b","n":24,"lon":-113.447,"lat":30.071},{"c":"b","n":25,"lon":-113.404,"lat":30.062},{"c":"b","n":26,"lon":-113.378,"lat":30.02},
{"c":"d","n":1,"lon":-113.941,"lat":31.607},{"c":"d","n":2,"lon":-113.941,"lat":31.552},{"c":"d","n":3,"lon":-113.819,"lat":31.552},{"c":"d","n":4,"lon":-113.798,"lat":31.524},{"c":"d","n":5,"lon":-113.809,"lat":31.483},{"c":"d","n":6,"lon":-113.739,"lat":31.432},{"c":"d","n":7,"lon":-113.66,"lat":31.455},{"c":"d","n":8,"lon":-113.649,"lat":31.478},
{"c":"e","n":1,"lon":-113.324,"lat":30.903},{"c":"e","n":2,"lon":-113.277,"lat":30.917},{"c":"e","n":3,"lon":-113.271,"lat":30.857},{"c":"e","n":4,"lon":-113.303,"lat":30.857},{"c":"e","n":5,"lon":-113.324,"lat":30.88},{"c":"e","n":6,"lon":-113.324,"lat":30.903}],
"serie":[
{"d":"2014-09-01","CP1":-0.36,"CP2":-0.25},{"d":"2014-09-02","CP1":-0.35,"CP2":-0.2},{"d":"2014-09-03","CP1":-0.39,"CP2":-0.08},{"d":"2014-09-04","CP1":-0.19,"CP2":-0.08},{"d":"2014-09-05","CP1":-0.2,"CP2":-0.07},{"d":"2014-09-06","CP1":-0.24,"CP2":-0.05},{"d":"2014-09-07","CP1":-0.27,"CP2":-0.06},{"d":"2014-09-08","CP1":-0.18,"CP2":-0.1},{"d":"2014-09-09","CP1":-0.17,"CP2":-0.1},{"d":"2014-09-10","CP1":-0.31,"CP2":-0.1},{"d":"2014-09-11","CP1":-0.29,"CP2":-0.17},{"d":"2014-09-12","CP1":-0.34,"CP2":-0.2},{"d":"2014-09-13","CP1":-0.41,"CP2":-0.17},{"d":"2014-09-14","CP1":-0.39,"CP2":-0.1},{"d":"2014-09-15","CP1":-0.38,"CP2":-0.05},{"d":"2014-09-16","CP1":-0.29,"CP2":-0.1},{"d":"2014-09-17","CP1":-0.2,"CP2":-0.13},{"d":"2014-09-18","CP1":-0.03,"CP2":-0.08},{"d":"2014-09-19","CP1":-0.2,"CP2":-0.2},{"d":"2014-09-20","CP1":-0.1,"CP2":-0.38},{"d":"2014-09-21","CP1":-0.15,"CP2":-0.2},{"d":"2014-09-22","CP1":-0.27,"CP2":-0.11},{"d":"2014-09-23","CP1":-0.3,"CP2":-0.08},{"d":"2014-09-24","CP1":-0.3,"CP2":-0.11},{"d":"2014-09-25","CP1":-0.2,"CP2":-0.19},{"d":"2014-09-26","CP1":-0.48,"CP2":0},{"d":"2014-09-27","CP1":-0.13,"CP2":-0.15},{"d":"2014-09-28","CP1":-0.06,"CP2":-0.13},{"d":"2014-09-29","CP1":0.03,"CP2":-0.06},{"d":"2014-09-30","CP1":-0.06,"CP2":-0.05},
{"d":"2014-10-01","CP1":-0.08,"CP2":0.03},{"d":"2014-10-02","CP1":-0.06,"CP2":-0.06},{"d":"2014-10-03","CP1":-0.04,"CP2":-0.17},{"d":"2014-10-04","CP1":-0.04,"CP2":-0.32},{"d":"2014-10-05","CP1":-0.13,"CP2":-0.17},{"d":"2014-10-06","CP1":-0.2,"CP2":-0.08},{"d":"2014-10-07","CP1":-0.22,"CP2":-0.12},{"d":"2014-10-08","CP1":-0.2,"CP2":-0.15},{"d":"2014-10-09","CP1":-0.08,"CP2":-0.13},{"d":"2014-10-10","CP1":-0.13,"CP2":-0.17},{"d":"2014-10-11","CP1":-0.27,"CP2":-0.15},{"d":"2014-10-12","CP1":-0.43,"CP2":0.13},{"d":"2014-10-13","CP1":-0.2,"CP2":-0.03},{"d":"2014-10-14","CP1":-0.19,"CP2":-0.03},{"d":"2014-10-15","CP1":-0.29,"CP2":-0.01},{"d":"2014-10-16","CP1":-0.22,"CP2":0.1},{"d":"2014-10-17","CP1":-0.32,"CP2":0.2},{"d":"2014-10-18","CP1":-0.36,"CP2":0.27},{"d":"2014-10-19","CP1":-0.39,"CP2":0.32},{"d":"2014-10-20","CP1":-0.41,"CP2":0.25},{"d":"2014-10-21","CP1":-0.5,"CP2":0.18},{"d":"2014-10-22","CP1":-0.45,"CP2":0.13},{"d":"2014-10-23","CP1":-0.22,"CP2":0.15},{"d":"2014-10-24","CP1":-0.48,"CP2":0.13},{"d":"2014-10-25","CP1":-0.36,"CP2":0.15},{"d":"2014-10-26","CP1":-0.22,"CP2":0.1},{"d":"2014-10-27","CP1":-0.2,"CP2":0.2},{"d":"2014-10-28","CP1":-0.48,"CP2":0.81},{"d":"2014-10-29","CP1":0.29,"CP2":-0.05},{"d":"2014-10-30","CP1":0.29,"CP2":0.29},{"d":"2014-10-31","CP1":0.08,"CP2":-0.03},
{"d":"2014-11-01","CP1":0.36,"CP2":-0.27},{"d":"2014-11-02","CP1":0.53,"CP2":-0.45},{"d":"2014-11-03","CP1":1.16,"CP2":-0.8},{"d":"2014-11-04","CP1":1.23,"CP2":-1},{"d":"2014-11-05","CP1":2,"CP2":-2.23},{"d":"2014-11-06","CP1":1.83,"CP2":-1.22},{"d":"2014-11-07","CP1":3.12,"CP2":-2.34},{"d":"2014-11-08","CP1":4.8,"CP2":-2.83},{"d":"2014-11-09","CP1":3.05,"CP2":-1.85},{"d":"2014-11-10","CP1":2.07,"CP2":-0.73},{"d":"2014-11-11","CP1":1.5,"CP2":-0.55},{"d":"2014-11-12","CP1":1.27,"CP2":0.04},{"d":"2014-11-13","CP1":2.14,"CP2":3.9},{"d":"2014-11-14","CP1":1.5,"CP2":2.35},{"d":"2014-11-15","CP1":0.85,"CP2":1.23},{"d":"2014-11-16","CP1":0.4,"CP2":0.67},{"d":"2014-11-17","CP1":0.05,"CP2":0.31},{"d":"2014-11-18","CP1":-0.03,"CP2":0.3},{"d":"2014-11-19","CP1":-0.06,"CP2":0.37},{"d":"2014-11-20","CP1":-0.15,"CP2":0.25},{"d":"2014-11-21","CP1":-0.17,"CP2":0.53},{"d":"2014-11-22","CP1":0,"CP2":0.76},{"d":"2014-11-23","CP1":0.92,"CP2":0.29},{"d":"2014-11-24","CP1":-0.1,"CP2":0.71},{"d":"2014-11-25","CP1":-0.45,"CP2":0.41},{"d":"2014-11-26","CP1":-0.66,"CP2":0.46},{"d":"2014-11-27","CP1":-0.83,"CP2":0.57},{"d":"2014-11-28","CP1":-0.7,"CP2":0.55},{"d":"2014-11-29","CP1":-0.8,"CP2":1.06},{"d":"2014-11-30","CP1":-0.2,"CP2":0.32},
{"d":"2014-12-01","CP1":-0.3,"CP2":0.39},{"d":"2014-12-02","CP1":-0.59,"CP2":0.57},{"d":"2014-12-03","CP1":-0.9,"CP2":0.66},{"d":"2014-12-04","CP1":-1,"CP2":0.64},{"d":"2014-12-05","CP1":-0.94,"CP2":0.36},{"d":"2014-12-06","CP1":-0.76,"CP2":-0.06},{"d":"2014-12-07","CP1":0.53,"CP2":0.85},{"d":"2014-12-08","CP1":0.11,"CP2":0.6},{"d":"2014-12-09","CP1":-0.34,"CP2":0.46},{"d":"2014-12-10","CP1":1.5,"CP2":1.37},{"d":"2014-12-11","CP1":2.63,"CP2":1.09},{"d":"2014-12-12","CP1":1.5,"CP2":0.71},{"d":"2014-12-13","CP1":0.39,"CP2":0.57},{"d":"2014-12-14","CP1":1.3,"CP2":0.53},{"d":"2014-12-15","CP1":1.06,"CP2":0.29},{"d":"2014-12-16","CP1":0.7,"CP2":-0.13},{"d":"2014-12-17","CP1":0.88,"CP2":-0.24},{"d":"2014-12-18","CP1":0.46,"CP2":-0.34},{"d":"2014-12-19","CP1":0.36,"CP2":0.04},{"d":"2014-12-20","CP1":0.43,"CP2":-0.17},{"d":"2014-12-21","CP1":0.71,"CP2":-0.83},{"d":"2014-12-22","CP1":-1.04,"CP2":0.5},{"d":"2014-12-23","CP1":-0.17,"CP2":-0.03},{"d":"2014-12-24","CP1":-1.04,"CP2":0.17},{"d":"2014-12-25","CP1":-0.9,"CP2":0.15},{"d":"2014-12-26","CP1":-0.92,"CP2":0.36},{"d":"2014-12-27","CP1":-0.97,"CP2":0.25},{"d":"2014-12-28","CP1":-0.97,"CP2":0.22},{"d":"2014-12-29","CP1":-1.29,"CP2":0.6},{"d":"2014-12-30","CP1":-1.02,"CP2":0.32},{"d":"2014-12-31","CP1":-1.09,"CP2":0.25},
{"d":"2015-01-01","CP1":-1.25,"CP2":0.15},{"d":"2015-01-02","CP1":-1.38,"CP2":0.36},{"d":"2015-01-03","CP1":-1.22,"CP2":0.43},{"d":"2015-01-04","CP1":-1.18,"CP2":0.36},{"d":"2015-01-05","CP1":-1.29,"CP2":0.36},{"d":"2015-01-06","CP1":-1.29,"CP2":0.38},{"d":"2015-01-07","CP1":-1.53,"CP2":0.46},{"d":"2015-01-08","CP1":-1.81,"CP2":0.48},{"d":"2015-01-09","CP1":-1.85,"CP2":0.52},{"d":"2015-01-10","CP1":-1.3,"CP2":0.46},{"d":"2015-01-11","CP1":-1.34,"CP2":0.29},{"d":"2015-01-12","CP1":-1.39,"CP2":-0.03},{"d":"2015-01-13","CP1":-1.15,"CP2":-0.27},{"d":"2015-01-14","CP1":-0.95,"CP2":-0.41},{"d":"2015-01-15","CP1":-1,"CP2":-0.59},{"d":"2015-01-16","CP1":-1.99,"CP2":0.25},{"d":"2015-01-17","CP1":-0.9,"CP2":-1.04},{"d":"2015-01-18","CP1":-0.87,"CP2":-1.5},{"d":"2015-01-19","CP1":-0.24,"CP2":-1.64},{"d":"2015-01-20","CP1":0,"CP2":-2.2},{"d":"2015-01-21","CP1":0.92,"CP2":-3.42},{"d":"2015-01-22","CP1":0.32,"CP2":-2.83},{"d":"2015-01-23","CP1":-0.39,"CP2":-1.88},{"d":"2015-01-24","CP1":-0.43,"CP2":-1.67},{"d":"2015-01-25","CP1":-0.45,"CP2":-1.39},{"d":"2015-01-26","CP1":-0.34,"CP2":-1.48},{"d":"2015-01-27","CP1":-0.13,"CP2":-1.6},{"d":"2015-01-28","CP1":-0.17,"CP2":-1.29},{"d":"2015-01-29","CP1":-0.52,"CP2":-0.83},{"d":"2015-01-30","CP1":-1.36,"CP2":0.08},{"d":"2015-01-31","CP1":-1.74,"CP2":0.5},
{"d":"2015-02-01","CP1":-1.57,"CP2":0.6},{"d":"2015-02-02","CP1":0.08,"CP2":-0.52},{"d":"2015-02-03","CP1":0.11,"CP2":0.22},{"d":"2015-02-04","CP1":0.43,"CP2":-0.53},{"d":"2015-02-05","CP1":0.53,"CP2":-0.46},{"d":"2015-02-06","CP1":0.66,"CP2":-0.48},{"d":"2015-02-07","CP1":0.67,"CP2":-0.38},{"d":"2015-02-08","CP1":-0.1,"CP2":-0.1},{"d":"2015-02-09","CP1":-0.13,"CP2":-0.13},{"d":"2015-02-10","CP1":-0.41,"CP2":0.57},{"d":"2015-02-11","CP1":0.74,"CP2":-0.03},{"d":"2015-02-12","CP1":1.41,"CP2":-0.34},{"d":"2015-02-13","CP1":-0.27,"CP2":0.57},{"d":"2015-02-14","CP1":-0.39,"CP2":0.43},{"d":"2015-02-15","CP1":-0.34,"CP2":0.29},{"d":"2015-02-16","CP1":0.36,"CP2":0.67},{"d":"2015-02-17","CP1":-0.1,"CP2":1.93},{"d":"2015-02-18","CP1":1.65,"CP2":2.7},{"d":"2015-02-19","CP1":2.7,"CP2":3.19},{"d":"2015-02-20","CP1":3.82,"CP2":3.11},{"d":"2015-02-21","CP1":4.38,"CP2":3.14},{"d":"2015-02-22","CP1":1.16,"CP2":1.51},{"d":"2015-02-23","CP1":0.53,"CP2":0.46},{"d":"2015-02-24","CP1":-0.2,"CP2":-0.69},{"d":"2015-02-25","CP1":0.36,"CP2":-0.41},{"d":"2015-02-26","CP1":1.3,"CP2":0.74},{"d":"2015-02-27","CP1":1.51,"CP2":-1.88},{"d":"2015-02-28","CP1":0.74,"CP2":-2.13},
{"d":"2015-03-01","CP1":0.25,"CP2":-1.11},{"d":"2015-03-02","CP1":0.64,"CP2":-2.09},{"d":"2015-03-03","CP1":0.78,"CP2":-1.36},{"d":"2015-03-04","CP1":1.79,"CP2":-2.3},{"d":"2015-03-05","CP1":-0.24,"CP2":-2.93},{"d":"2015-03-06","CP1":0.85,"CP2":-2.2},{"d":"2015-03-07","CP1":-0.24,"CP2":-1.67},{"d":"2015-03-08","CP1":-0.03,"CP2":-1.48},{"d":"2015-03-09","CP1":0,"CP2":-0.94},{"d":"2015-03-10","CP1":0.11,"CP2":-0.45},{"d":"2015-03-11","CP1":0.39,"CP2":-0.03},{"d":"2015-03-12","CP1":-0.69,"CP2":0.39},{"d":"2015-03-13","CP1":0.78,"CP2":1.23},{"d":"2015-03-14","CP1":0.46,"CP2":-0.03},{"d":"2015-03-15","CP1":0.43,"CP2":-0.17},{"d":"2015-03-16","CP1":0.57,"CP2":0.99},{"d":"2015-03-17","CP1":0.04,"CP2":0.81},{"d":"2015-03-18","CP1":-0.48,"CP2":0.22},{"d":"2015-03-19","CP1":-0.24,"CP2":0.22},{"d":"2015-03-20","CP1":1.23,"CP2":1.23},{"d":"2015-03-21","CP1":-0.69,"CP2":1.2},{"d":"2015-03-22","CP1":-0.06,"CP2":0.93},{"d":"2015-03-23","CP1":-0.04,"CP2":1.08},{"d":"2015-03-24","CP1":-0.2,"CP2":1.08},{"d":"2015-03-25","CP1":-0.38,"CP2":1.18},{"d":"2015-03-26","CP1":-0.59,"CP2":0.78},{"d":"2015-03-27","CP1":-0.48,"CP2":0.64},{"d":"2015-03-28","CP1":-1.04,"CP2":0.73},{"d":"2015-03-29","CP1":-1.08,"CP2":0.71},{"d":"2015-03-30","CP1":-1.18,"CP2":0.64},{"d":"2015-03-31","CP1":-1,"CP2":0.76}
]
},
"resolve":{"scale":{"color":"independent"}},
"vconcat":[
{"resolve":{"scale":{"color":"independent"}},"hconcat":[
{"width":450,"height":480,"view":{"stroke":"#000","strokeWidth":2.5},"title":{"text":"Modo 1 V.E. 34 %","fontSize":33.3,"fontWeight":"bold","color":"#000","offset":6},
"encoding":{"x":{"field":"lon","type":"quantitative","scale":{"domain":[-115.197,-112.803],"nice":false,"zero":false},"axis":null},"y":{"field":"lat","type":"quantitative","scale":{"domain":[29.602,31.81],"nice":false,"zero":false},"axis":null}},
"resolve":{"axis":{"x":"independent","y":"independent"}},
"layer":[
{"data":{"name":"celdas"},"mark":{"type":"rect","width":17,"height":19.5,"clip":true},"encoding":{"x":{"field":"lon","type":"quantitative","scale":{"domain":[-115.197,-112.803],"nice":false,"zero":false},"axis":{"orient":"bottom","values":[-115,-114,-113],"labelExpr":"abs(datum.value)+'°W'","grid":false,"domain":false,"tickSize":-6,"tickWidth":2,"tickColor":"#000","labelPadding":16,"labelFontSize":20.5,"title":null}},"y":{"field":"lat","type":"quantitative","scale":{"domain":[29.602,31.81],"nice":false,"zero":false},"axis":{"orient":"left","values":[30,30.5,31,31.5],"labelExpr":"datum.value % 1 == 0 ? datum.value + '°N' : '30\\''","labelFontSize":{"condition":{"test":"datum.value % 1 == 0","value":20.5},"value":13},"grid":false,"domain":false,"tickSize":-6,"tickWidth":2,"tickColor":"#000","labelPadding":12,"labelOffset":2,"title":null}},"color":{"field":"a","type":"quantitative","legend":null,"scale":{"domain":[-1,-0.62,0.11,0.84,1.6,2.05],"range":["#00008F","#0000FF","#00FFFF","#FFFF00","#FF0000","#800000"]}}}},
{"data":{"name":"oeste"},"mark":{"type":"area","orient":"horizontal","color":"#808080","clip":true},"encoding":{"x2":{"datum":-115.2}}},
{"data":{"name":"norte"},"mark":{"type":"area","orient":"vertical","color":"#808080","clip":true},"encoding":{"y2":{"datum":31.82}}},
{"data":{"name":"tope"},"mark":{"type":"area","orient":"vertical","color":"#808080","clip":true},"encoding":{"y2":{"datum":31.82}}},
{"data":{"name":"este"},"mark":{"type":"area","orient":"horizontal","color":"#808080","clip":true},"encoding":{"x2":{"datum":-112.8}}},
{"data":{"name":"isla"},"mark":{"type":"area","orient":"horizontal","color":"#808080","stroke":"#222","strokeWidth":0.7,"clip":true},"encoding":{"x2":{"field":"lon2"}}},
{"data":{"name":"oeste"},"mark":{"type":"line","color":"#222","strokeWidth":1,"clip":true},"encoding":{"order":{"field":"lat","sort":"descending"}}},
{"data":{"name":"norte"},"mark":{"type":"line","color":"#222","strokeWidth":1,"clip":true},"encoding":{"order":{"field":"lon"}}},
{"data":{"name":"este"},"mark":{"type":"line","color":"#222","strokeWidth":1,"clip":true},"encoding":{"order":{"field":"lat","sort":"descending"}}},
{"data":{"name":"c1"},"mark":{"type":"line","color":"#111","strokeWidth":1.6},"encoding":{"detail":{"field":"c"},"order":{"field":"n"}}},
{"data":{"name":"islotes"},"mark":{"type":"point","filled":true,"color":"#808080","stroke":"#222","strokeWidth":0.7,"opacity":1},"encoding":{"size":{"field":"s","type":"quantitative","legend":null,"scale":null}}},
{"data":{"name":"puntos"},"mark":{"type":"point","filled":true,"color":"#000","size":70,"opacity":1}},
{"data":{"name":"estrella"},"mark":{"type":"point","filled":true,"fill":"#fff","stroke":"#000","strokeWidth":1.5,"opacity":1,"size":340,"shape":"M0,-1L0.294,-0.405L0.951,-0.309L0.476,0.155L0.588,0.809L0,0.5L-0.588,0.809L-0.476,0.155L-0.951,-0.309L-0.294,-0.405Z"}},
{"data":{"name":"sitios"},"mark":{"type":"text","align":"left","baseline":"middle","fontSize":23,"color":"#222"},"encoding":{"text":{"field":"t"},"x":{"field":"lon","type":"quantitative","scale":{"domain":[-115.197,-112.803],"nice":false,"zero":false},"axis":{"orient":"top","values":[-115,-114,-113],"labels":false,"grid":false,"domain":false,"tickSize":-6,"tickWidth":2,"tickColor":"#000","title":null}},"y":{"field":"lat","type":"quantitative","scale":{"domain":[29.602,31.81],"nice":false,"zero":false},"axis":{"orient":"right","values":[30,30.5,31,31.5],"labels":false,"grid":false,"domain":false,"tickSize":-6,"tickWidth":2,"tickColor":"#000","title":null}}}}
]},
{"width":16,"height":480,"view":{"stroke":null},"data":{"values":[{"a":1}]},"mark":{"type":"point","opacity":0}},
{"width":28,"height":480,"view":{"stroke":"#000","strokeWidth":1},"data":{"values":[{"lo":-1,"hi":2.05}]},"mark":{"type":"rect","color":{"gradient":"linear","x1":0,"y1":1,"x2":0,"y2":0,"stops":[{"offset":0,"color":"#00008F"},{"offset":0.125,"color":"#0000FF"},{"offset":0.375,"color":"#00FFFF"},{"offset":0.625,"color":"#FFFF00"},{"offset":0.875,"color":"#FF0000"},{"offset":1,"color":"#800000"}]}},"encoding":{"y":{"field":"lo","type":"quantitative","scale":{"domain":[-1,2.05],"nice":false,"zero":false},"axis":{"orient":"right","values":[-1,-0.5,0,0.5,1,1.5,2],"labelExpr":"''+datum.value","labelFontSize":24.5,"labelOffset":2,"tickSize":0,"domain":false,"grid":false,"labelPadding":8,"title":"mg/m³","titleFontSize":21,"titleAngle":270,"titlePadding":41}},"y2":{"field":"hi"}}},
{"width":113,"height":480,"view":{"stroke":null},"data":{"values":[{"a":1}]},"mark":{"type":"point","opacity":0}},
{"width":450,"height":480,"view":{"stroke":"#000","strokeWidth":2.5},"title":{"text":"Modo 2 V.E. 14 %","fontSize":33.3,"fontWeight":"bold","color":"#000","offset":6},
"encoding":{"x":{"field":"lon","type":"quantitative","scale":{"domain":[-115.197,-112.803],"nice":false,"zero":false},"axis":null},"y":{"field":"lat","type":"quantitative","scale":{"domain":[29.602,31.81],"nice":false,"zero":false},"axis":null}},
"resolve":{"axis":{"x":"independent","y":"independent"}},
"layer":[
{"data":{"name":"celdas"},"mark":{"type":"rect","width":17,"height":19.5,"clip":true},"encoding":{"x":{"field":"lon","type":"quantitative","scale":{"domain":[-115.197,-112.803],"nice":false,"zero":false},"axis":{"orient":"bottom","values":[-115,-114,-113],"labelExpr":"abs(datum.value)+'°W'","grid":false,"domain":false,"tickSize":-6,"tickWidth":2,"tickColor":"#000","labelPadding":16,"labelFontSize":20.5,"title":null}},"y":{"field":"lat","type":"quantitative","scale":{"domain":[29.602,31.81],"nice":false,"zero":false},"axis":{"orient":"left","values":[30,30.5,31,31.5],"labels":false,"grid":false,"domain":false,"tickSize":-6,"tickWidth":2,"tickColor":"#000","title":null}},"color":{"field":"b","type":"quantitative","legend":null,"scale":{"domain":[-1,-0.72,-0.161,0.398,0.957,1.237],"range":["#00008F","#0000FF","#00FFFF","#FFFF00","#FF0000","#800000"]}}}},
{"data":{"name":"oeste"},"mark":{"type":"area","orient":"horizontal","color":"#808080","clip":true},"encoding":{"x2":{"datum":-115.2}}},
{"data":{"name":"norte"},"mark":{"type":"area","orient":"vertical","color":"#808080","clip":true},"encoding":{"y2":{"datum":31.82}}},
{"data":{"name":"tope"},"mark":{"type":"area","orient":"vertical","color":"#808080","clip":true},"encoding":{"y2":{"datum":31.82}}},
{"data":{"name":"este"},"mark":{"type":"area","orient":"horizontal","color":"#808080","clip":true},"encoding":{"x2":{"datum":-112.8}}},
{"data":{"name":"isla"},"mark":{"type":"area","orient":"horizontal","color":"#808080","stroke":"#222","strokeWidth":0.7,"clip":true},"encoding":{"x2":{"field":"lon2"}}},
{"data":{"name":"oeste"},"mark":{"type":"line","color":"#222","strokeWidth":1,"clip":true},"encoding":{"order":{"field":"lat","sort":"descending"}}},
{"data":{"name":"norte"},"mark":{"type":"line","color":"#222","strokeWidth":1,"clip":true},"encoding":{"order":{"field":"lon"}}},
{"data":{"name":"este"},"mark":{"type":"line","color":"#222","strokeWidth":1,"clip":true},"encoding":{"order":{"field":"lat","sort":"descending"}}},
{"data":{"name":"c2"},"mark":{"type":"line","color":"#111","strokeWidth":1.6},"encoding":{"detail":{"field":"c"},"order":{"field":"n"}}},
{"data":{"name":"islotes"},"mark":{"type":"point","filled":true,"color":"#808080","stroke":"#222","strokeWidth":0.7,"opacity":1},"encoding":{"size":{"field":"s","type":"quantitative","legend":null,"scale":null}}},
{"data":{"name":"puntos"},"mark":{"type":"point","filled":true,"color":"#000","size":70,"opacity":1}},
{"data":{"name":"estrella"},"mark":{"type":"point","filled":true,"fill":"#fff","stroke":"#000","strokeWidth":1.5,"opacity":1,"size":340,"shape":"M0,-1L0.294,-0.405L0.951,-0.309L0.476,0.155L0.588,0.809L0,0.5L-0.588,0.809L-0.476,0.155L-0.951,-0.309L-0.294,-0.405Z"}},
{"data":{"name":"sitios"},"mark":{"type":"text","align":"left","baseline":"middle","fontSize":23,"color":"#222"},"encoding":{"text":{"field":"t"},"x":{"field":"lon","type":"quantitative","scale":{"domain":[-115.197,-112.803],"nice":false,"zero":false},"axis":{"orient":"top","values":[-115,-114,-113],"labels":false,"grid":false,"domain":false,"tickSize":-6,"tickWidth":2,"tickColor":"#000","title":null}},"y":{"field":"lat","type":"quantitative","scale":{"domain":[29.602,31.81],"nice":false,"zero":false},"axis":{"orient":"right","values":[30,30.5,31,31.5],"labels":false,"grid":false,"domain":false,"tickSize":-6,"tickWidth":2,"tickColor":"#000","title":null}}}}
]},
{"width":15,"height":480,"view":{"stroke":null},"data":{"values":[{"a":1}]},"mark":{"type":"point","opacity":0}},
{"width":29,"height":480,"view":{"stroke":"#000","strokeWidth":1},"data":{"values":[{"lo":-1,"hi":1.237}]},"mark":{"type":"rect","color":{"gradient":"linear","x1":0,"y1":1,"x2":0,"y2":0,"stops":[{"offset":0,"color":"#00008F"},{"offset":0.125,"color":"#0000FF"},{"offset":0.375,"color":"#00FFFF"},{"offset":0.625,"color":"#FFFF00"},{"offset":0.875,"color":"#FF0000"},{"offset":1,"color":"#800000"}]}},"encoding":{"y":{"field":"lo","type":"quantitative","scale":{"domain":[-1,1.237],"nice":false,"zero":false},"axis":{"orient":"right","values":[-1,-0.5,0,0.5,1],"labelExpr":"''+datum.value","labelFontSize":24.5,"labelOffset":2,"tickSize":0,"domain":false,"grid":false,"labelPadding":8,"title":"mg/m³","titleFontSize":21,"titleAngle":270,"titlePadding":35}},"y2":{"field":"hi"}}}
],"spacing":0,"bounds":"flush"},
{"hconcat":[
{"width":119,"height":476,"view":{"stroke":null},"data":{"values":[{"a":1}]},"mark":{"type":"point","opacity":0}},
{"width":970,"height":476,"view":{"stroke":"#666","strokeWidth":1.5},
"layer":[
{"data":{"name":"serie"},"transform":[{"fold":["CP1","CP2"],"as":["s","v"]}],"mark":{"type":"line","strokeWidth":3.3,"clip":true},"encoding":{"x":{"field":"d","type":"temporal","scale":{"domain":["2014-09-01","2015-03-31"]},"axis":{"values":["2014-10-01","2014-11-01","2014-12-01","2015-01-01","2015-02-01","2015-03-01"],"labelExpr":"['Ene','Feb','Mar','','','','','','Sep','Oct','Nov','Dic'][utcmonth(datum.value)]","grid":true,"gridColor":"#dcdcdc","domain":false,"tickSize":-9,"tickColor":"#555","labelPadding":22,"labelFontSize":24,"title":"Meses (2014-2015)","titleFontSize":30.4,"titlePadding":8}},"y":{"field":"v","type":"quantitative","scale":{"domain":[-4,6],"nice":false,"zero":false},"axis":{"values":[-4,-2,0,2,4,6],"labelExpr":"''+datum.value","grid":true,"gridColor":"#dcdcdc","domain":false,"tickSize":-9,"tickColor":"#555","labelPadding":20,"labelFontSize":24,"title":"Amplitud temporal","titleFontSize":30.4,"titlePadding":5}},"color":{"field":"s","type":"nominal","scale":{"domain":["CP1","CP2"],"range":["#0000FF","#FF0000"]},"legend":{"orient":"none","legendX":139,"legendY":9,"title":null,"symbolType":"stroke","symbolSize":1000,"symbolStrokeWidth":3.3,"labelFontSize":21,"labelColor":"#222","fillColor":"#fff","strokeColor":"#333","padding":5,"labelOffset":6,"rowPadding":0}}}},
{"data":{"values":[{"z":0}]},"mark":{"type":"rule","color":"#222","strokeWidth":1.7},"encoding":{"y":{"field":"z","type":"quantitative"}}},
{"data":{"values":[{"d":"2014-12-14","v":4.92,"t":"c"}]},"mark":{"type":"text","font":"Liberation Sans","fontWeight":"bold","fontSize":54,"color":"#000","baseline":"middle"},"encoding":{"x":{"field":"d","type":"temporal"},"y":{"field":"v","type":"quantitative"},"text":{"field":"t"}}}
]}
],"spacing":0,"bounds":"flush"}
],"spacing":22}
